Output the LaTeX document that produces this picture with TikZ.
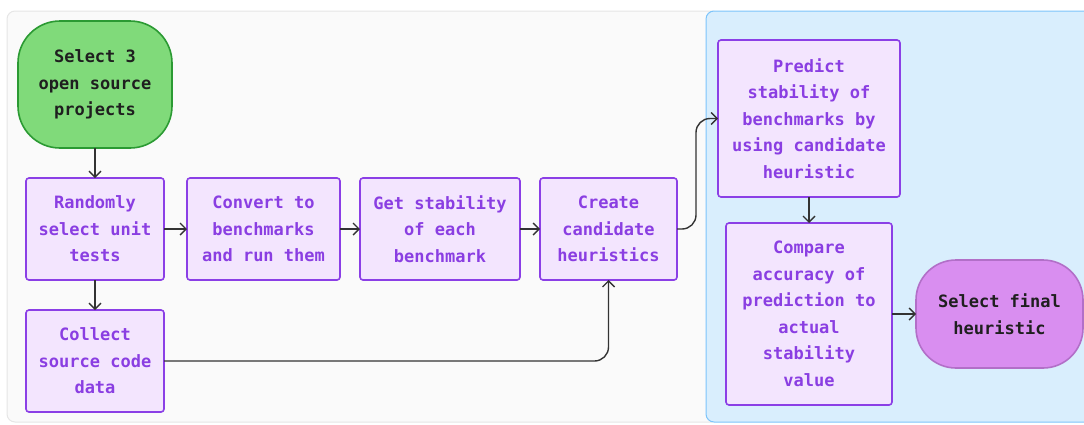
\documentclass[tikz,border=0pt]{standalone}
\usepackage{fontspec}
\newfontfamily\diagmono{DejaVu Sans Mono}
\usepackage{tikz}
\usetikzlibrary{positioning,arrows.meta}
\definecolor{panelgray}{HTML}{FAFAFA}
\definecolor{panelline}{HTML}{E6E6E6}
\definecolor{panelblue}{HTML}{D9EEFD}
\definecolor{panelblueline}{HTML}{7CC4FA}
\definecolor{procfill}{HTML}{F3E5FE}
\definecolor{procline}{HTML}{8B3FE6}
\definecolor{proctext}{HTML}{8A3EE2}
\definecolor{startfill}{HTML}{80DA7A}
\definecolor{startline}{HTML}{2B9A33}
\definecolor{endfill}{HTML}{D98EF0}
\definecolor{endline}{HTML}{B26FC8}
\definecolor{linkcol}{HTML}{333333}
\tikzset{
  proc/.style  = {draw=procline, fill=procfill, text=proctext, line width=1.6pt,
                  rounded corners=3pt, align=center, inner sep=0pt, outer sep=0pt,
                  minimum height=102pt,
                  font=\diagmono\bfseries\fontsize{17}{26.5}\selectfont},
  start/.style = {draw=startline, fill=startfill, text=black!88, line width=1.6pt,
                  rounded corners=42pt, align=center, inner sep=0pt, outer sep=0pt,
                  minimum width=154pt, minimum height=127pt,
                  font=\diagmono\bfseries\fontsize{17}{26.5}\selectfont},
  final/.style = {draw=endline, fill=endfill, text=black!88, line width=1.6pt,
                  rounded corners=40pt, align=center, inner sep=0pt, outer sep=0pt,
                  minimum width=167pt, minimum height=108pt,
                  font=\diagmono\bfseries\fontsize{17}{26.5}\selectfont},
  link/.style  = {draw=linkcol, line width=1.4pt,
                  -{Straight Barb[length=6pt,width=12pt,line width=1.4pt]}},
}
\begin{document}
\begin{tikzpicture}[x=1pt, y=-1pt]
  \useasboundingbox (0,0) rectangle (1084,424);
  % panels
  \filldraw[fill=panelgray, draw=panelline, line width=1pt, rounded corners=8pt] (7,11) rectangle (720,422);
  \filldraw[fill=panelblue, draw=panelblueline, line width=1pt, rounded corners=8pt] (706,11) rectangle (1100,422);
  % nodes
  \node[start] (src) at (95,84.5) {Select 3\\open source\\projects};
  \node[proc, minimum width=138pt] (rand) at (95,229) {Randomly\\select unit\\tests};
  \node[proc, minimum width=153pt, right=23pt of rand] (conv) {Convert to\\benchmarks\\and run them};
  \node[proc, minimum width=160pt, right=20pt of conv] (stab) {Get stability\\of each\\benchmark};
  \node[proc, minimum width=137pt, right=20pt of stab] (cand) {Create\\candidate\\heuristics};
  \node[proc, minimum width=138pt, below=30pt of rand] (coll) {Collect\\source code\\data};
  \node[proc, minimum width=182pt, minimum height=157pt] (pred) at (809,118.5)
    {Predict\\stability of\\benchmarks by\\using candidate\\heuristic};
  \node[proc, minimum width=166pt, minimum height=182pt, below=26pt of pred] (comp)
    {Compare\\accuracy of\\prediction to\\actual\\stability\\value};
  \node[final, right=24pt of comp] (fin) {Select final\\heuristic};
  % connectors
  \draw[link] (src) -- (rand);
  \draw[link] (rand) -- (conv);
  \draw[link] (conv) -- (stab);
  \draw[link] (stab) -- (cand);
  \draw[link] (rand) -- (coll);
  \draw[link, rounded corners=14pt] (coll.east) -| (cand.south);
  \draw[link, rounded corners=14pt] (cand.east) -- ++(19,0) |- (pred.west);
  \draw[link] (pred) -- (comp);
  \draw[link] (comp) -- (fin);
\end{tikzpicture}
\end{document}
